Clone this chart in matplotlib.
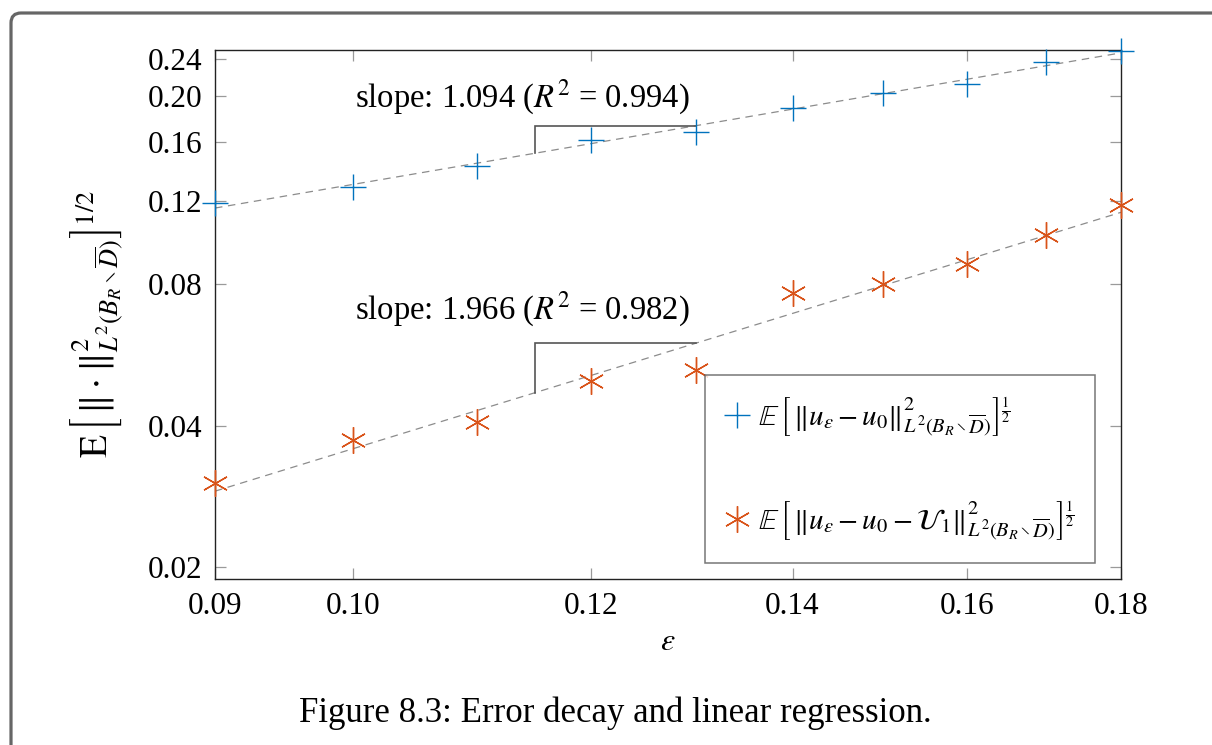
import numpy as np
import matplotlib
matplotlib.use("Agg")
import matplotlib.pyplot as plt
from matplotlib.ticker import FixedLocator, FixedFormatter, NullLocator
from matplotlib.patches import FancyBboxPatch
from matplotlib.transforms import IdentityTransform

plt.rcParams["font.family"] = ["Liberation Serif", "DejaVu Serif"]
plt.rcParams["mathtext.fontset"] = "stix"

# measured errors
eps = [0.09, 0.10, 0.11, 0.12, 0.13, 0.14, 0.15, 0.16, 0.17, 0.18]
err_first = [0.1189, 0.1286, 0.1423, 0.1616, 0.1678, 0.1886, 0.2030, 0.2124, 0.2360, 0.2498]
err_second = [0.0302, 0.0372, 0.0408, 0.0498, 0.0526, 0.0764, 0.0800, 0.0882, 0.1016, 0.1177]

# regression results
slope_first, r2_first = 1.094, 0.994
slope_second, r2_second = 1.966, 0.982

xticks = [0.09, 0.10, 0.12, 0.14, 0.16, 0.18]
xticklabels = ["0.09", "0.10", "0.12", "0.14", "0.16", "0.18"]
yticks = [0.02, 0.04, 0.08, 0.12, 0.16, 0.20, 0.24]
yticklabels = ["0.02", "0.04", "0.08", "0.12", "0.16", "0.20", "0.24"]

blue = "#0072BD"
orange = "#D95319"

W, H = 1212, 745
fig = plt.figure(figsize=(W / 100, H / 100), dpi=100)
ax = fig.add_axes([215 / W, 1 - 579 / H, 906 / W, 529 / H])
ax.set_xscale("log")
ax.set_yscale("log")
ax.set_xlim(0.09, 0.18)
ax.set_ylim(0.0189, 0.2507)

x = np.array(eps)


def fit_line(y, slope):
    lx, ly = np.log(x), np.log(np.array(y))
    c = np.mean(ly) - slope * np.mean(lx)
    return lambda t: np.exp(c) * np.asarray(t) ** slope


f1 = fit_line(err_first, slope_first)
f2 = fit_line(err_second, slope_second)

xx = np.array([0.09, 0.18])
ax.plot(xx, f1(xx), ls=(0, (6, 4.5)), color="#8c8c8c", lw=0.9, zorder=2)
ax.plot(xx, f2(xx), ls=(0, (6, 4.5)), color="#8c8c8c", lw=0.9, zorder=2)

# slope triangles
x0, x1 = 0.115, 0.13
for f in (f1, f2):
    ax.plot([x0, x0, x1], [f(x0), f(x1), f(x1)], color="#555555", lw=1.2,
            solid_joinstyle="miter", zorder=2)

ax.plot(eps, err_first, ls="none", marker="+", ms=19, mew=1.0, color=blue,
        clip_on=False, zorder=3,
        label=r"$\mathbb{E}\,\left[\,\Vert u_\varepsilon - u_0\Vert^2_{L^2(B_R\setminus\overline{D})}\right]^{\frac{1}{2}}$")
ax.plot(eps, err_second, ls="none", marker=(6, 2, 0), ms=19, mew=1.0, color=orange,
        clip_on=False, zorder=3,
        label=r"$\mathbb{E}\,\left[\,\Vert u_\varepsilon - u_0 - \mathcal{U}_1\Vert^2_{L^2(B_R\setminus\overline{D})}\right]^{\frac{1}{2}}$")

ax.text(0.339, 0.911, f"slope: {slope_first:.3f} ($R^2$ = {r2_first:.3f})",
        transform=ax.transAxes, ha="center", va="center", fontsize=23.5)
ax.text(0.339, 0.510, f"slope: {slope_second:.3f} ($R^2$ = {r2_second:.3f})",
        transform=ax.transAxes, ha="center", va="center", fontsize=23.5)

ax.xaxis.set_major_locator(FixedLocator(xticks))
ax.xaxis.set_major_formatter(FixedFormatter(xticklabels))
ax.xaxis.set_minor_locator(NullLocator())
ax.yaxis.set_major_locator(FixedLocator(yticks))
ax.yaxis.set_major_formatter(FixedFormatter(yticklabels))
ax.yaxis.set_minor_locator(NullLocator())
ax.tick_params(which="major", direction="in", length=8, width=0.9, color="#9a9a9a",
               top=True, right=True, labelsize=22.5, pad=9)
for s in ax.spines.values():
    s.set_color("#222222")
    s.set_linewidth(1.0)

leg = ax.legend(loc="lower right", bbox_to_anchor=(0.971, 0.030), borderaxespad=0,
                fontsize=21, frameon=True, fancybox=False, edgecolor="#555555",
                handlelength=0.8, handletextpad=0.3, labelspacing=2.05, borderpad=0.7)
leg.get_frame().set_linewidth(1.1)

ax.set_xlabel(r"$\varepsilon$", fontsize=23)
ax.xaxis.set_label_coords(0.5, -0.092)

fig.text(97 / W, 1 - 324 / H,
         r"$\mathrm{E}\,\left[\,\Vert\cdot\Vert^2_{L^2(B_R\setminus\overline{D})}\right]^{1/2}$",
         rotation=90, ha="center", va="center", fontsize=27)

fig.text(615 / W, 1 - 713 / H, "Figure 8.3: Error decay and linear regression.",
         ha="center", va="center", fontsize=25)

frame = FancyBboxPatch((11, -30), 1240, H - 13 + 30, boxstyle="round,pad=0,rounding_size=10",
                       transform=IdentityTransform(), fill=False, ec="#666666", lw=2.3)
fig.add_artist(frame)

fig.savefig("out.png", dpi=100)
